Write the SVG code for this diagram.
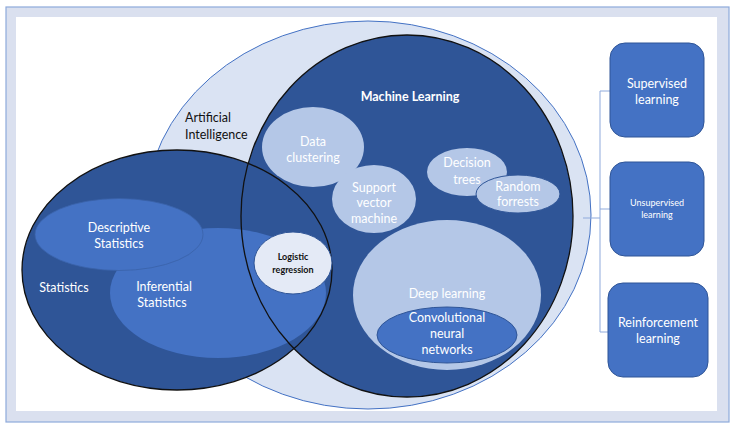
<svg xmlns="http://www.w3.org/2000/svg" width="735" height="429" viewBox="0 0 735 429">
<style>
text{font-family:Lato,"Liberation Sans",sans-serif;font-size:12.5px;text-anchor:middle}
.w{fill:#ffffff}
.k{fill:#111111}
.dark{fill:#2f5597}
.mid{fill:#4472c4}
.light{fill:#b4c7e7}
.box{fill:#4472c4;stroke:#2f5597;stroke-width:1}
.edge{fill:none;stroke:#111;stroke-width:1.3}
.conn{fill:none;stroke:#8faadc;stroke-width:1}
</style>
<rect x="6" y="7" width="723" height="415" fill="#dae0ef" stroke="#8eaadb" stroke-width="1.2"/>
<rect x="16" y="17" width="701" height="394" fill="#ffffff"/>

<g id="ai">
<ellipse cx="368" cy="215" rx="223" ry="194" fill="#dae3f3" stroke="#4472c4" stroke-width="1"/>
<text class="k" x="185" y="122" style="text-anchor:start">Artificial</text>
<text class="k" x="185" y="139" style="text-anchor:start">Intelligence</text>
</g>

<g id="machine-learning">
<ellipse class="dark" cx="407" cy="216" rx="166" ry="181"/>
<text class="w" x="410" y="101" style="font-weight:bold">Machine Learning</text>
</g>

<g id="statistics">
<ellipse class="dark" cx="177" cy="270" rx="155" ry="120"/>
<text class="w" x="64" y="292">Statistics</text>
</g>

<g id="inferential-statistics">
<ellipse class="mid" cx="218" cy="293" rx="108" ry="65"/>
<text class="w" x="164" y="291">Inferential</text>
<text class="w" x="162" y="307">Statistics</text>
</g>

<g id="descriptive-statistics">
<ellipse class="mid" cx="119" cy="234.5" rx="84" ry="36" stroke="#3a62a8" stroke-width="0.8"/>
<text class="w" x="119" y="232">Descriptive</text>
<text class="w" x="119" y="248">Statistics</text>
</g>

<g id="borders">
<ellipse class="edge" cx="407" cy="216" rx="166" ry="181"/>
<ellipse class="edge" cx="177" cy="270" rx="155" ry="120"/>
</g>

<g id="logistic-regression">
<ellipse cx="293" cy="263" rx="39" ry="31" fill="#e4eaf6" stroke="#2f5597" stroke-width="1"/>
<text class="k" x="293" y="260" style="font-size:9px;font-weight:bold">Logistic</text>
<text class="k" x="293" y="273" style="font-size:9px;font-weight:bold">regression</text>
</g>

<g id="data-clustering">
<ellipse class="light" cx="313" cy="147" rx="51" ry="40"/>
<text class="w" x="313" y="146">Data</text>
<text class="w" x="313" y="162">clustering</text>
</g>

<g id="support-vector-machine">
<ellipse class="light" cx="374" cy="199" rx="42" ry="34"/>
<text class="w" x="374" y="192">Support</text>
<text class="w" x="374" y="207">vector</text>
<text class="w" x="374" y="223">machine</text>
</g>

<g id="decision-trees">
<ellipse class="light" cx="467" cy="172" rx="40" ry="24"/>
<text class="w" x="467" y="167">Decision</text>
<text class="w" x="467" y="184">trees</text>
</g>

<g id="random-forrests">
<ellipse class="light" cx="518" cy="194" rx="42" ry="19" stroke="#2f5597" stroke-width="1"/>
<text class="w" x="518" y="191">Random</text>
<text class="w" x="518" y="206">forrests</text>
</g>

<g id="deep-learning">
<ellipse class="light" cx="447" cy="295" rx="94" ry="75"/>
<text class="w" x="447" y="298">Deep learning</text>
</g>

<g id="cnn">
<ellipse class="mid" cx="447" cy="335" rx="70" ry="28" stroke="#2f5597" stroke-width="1"/>
<text class="w" x="447" y="322">Convolutional</text>
<text class="w" x="447" y="338">neural</text>
<text class="w" x="447" y="354">networks</text>
</g>

<g id="connectors">
<path class="conn" d="M583 218H600M600 91V332M600 91H610M600 209H610M600 332H608"/>
</g>

<g id="supervised">
<rect class="box" x="610" y="43" width="94" height="94" rx="15"/>
<text class="w" x="657" y="88">Supervised</text>
<text class="w" x="657" y="104">learning</text>
</g>

<g id="unsupervised">
<rect class="box" x="610" y="162" width="94" height="94" rx="15"/>
<text class="w" x="657" y="206" style="font-size:9px">Unsupervised</text>
<text class="w" x="657" y="218" style="font-size:9px">learning</text>
</g>

<g id="reinforcement">
<rect class="box" x="608" y="283" width="100" height="94" rx="15"/>
<text class="w" x="658" y="327">Reinforcement</text>
<text class="w" x="658" y="343">learning</text>
</g>
</svg>
